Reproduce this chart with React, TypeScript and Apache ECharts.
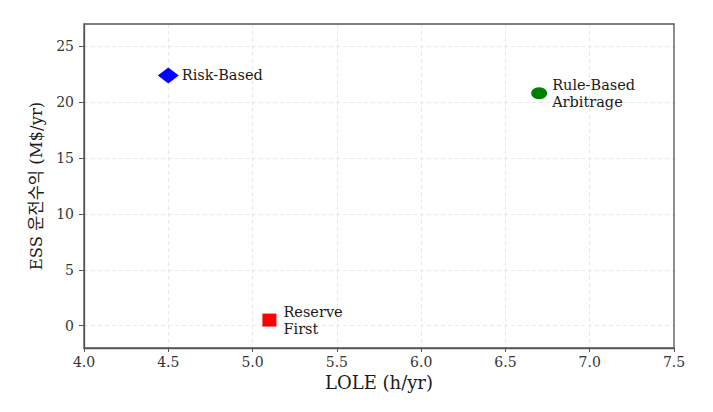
import React, { useEffect, useRef } from "react";
import * as echarts from "echarts";

const strategies = ["Risk-Based", "Rule-Based\nArbitrage", "Reserve\nFirst"];
const loleValues = [4.5, 6.7, 5.1];
const revenueValues = [22.4, 20.8, 0.5];
const yTickValues = [0, 5, 10, 15, 20, 25];

const FONT = "'DejaVu Serif', 'Noto Sans CJK KR', serif";

export default function App() {
  const ref = useRef<HTMLDivElement>(null);
  useEffect(() => {
    if (!ref.current) return;
    const chart = echarts.init(ref.current, undefined, { renderer: "svg" });
    const styles = [
      { symbol: "diamond", size: [21, 16], color: "#0000ff", dist: 3 },
      { symbol: "circle", size: [16, 12], color: "#008000", dist: 5 },
      { symbol: "rect", size: [14, 13], color: "#ff0000", dist: 7 },
    ];
    const series = strategies.map((name, i) => ({
      type: "scatter",
      name,
      symbol: styles[i].symbol,
      symbolSize: styles[i].size,
      itemStyle: { color: styles[i].color, opacity: 1 },
      data: [[loleValues[i], revenueValues[i]]],
      label: {
        show: true,
        position: "right",
        distance: styles[i].dist,
        formatter: name,
        color: "#1a1a1a",
        fontFamily: FONT,
        fontSize: 14.5,
        lineHeight: 17,
        align: "left",
      },
      emphasis: { disabled: true },
    }));
    chart.setOption({
      animation: false,
      backgroundColor: "#ffffff",
      grid: { left: 84, right: 39, top: 24, bottom: 64, show: false },
      xAxis: {
        type: "value",
        min: 4,
        max: 7.5,
        interval: 0.5,
        name: "LOLE (h/yr)",
        nameLocation: "middle",
        nameGap: 23,
        nameTextStyle: { fontFamily: FONT, fontSize: 18, color: "#1a1a1a" },
        axisLine: { show: true, onZero: false, lineStyle: { color: "#555", width: 1.3 } },
        axisTick: { show: true, length: 4, lineStyle: { color: "#555" } },
        axisLabel: {
          margin: 7,
          fontFamily: FONT,
          fontSize: 14,
          color: "#333",
          formatter: (v: number) => v.toFixed(1),
        },
        splitLine: { show: true, lineStyle: { color: "#e3e3e3", type: [4, 3], width: 0.8 } },
      },
      yAxis: {
        type: "value",
        min: -2,
        max: 27,
        name: "ESS 운전수익 (M$/yr)",
        nameLocation: "middle",
        nameGap: 39,
        nameTextStyle: { fontFamily: FONT, fontSize: 16.5, color: "#1a1a1a" },
        axisLine: { show: true, onZero: false, lineStyle: { color: "#555", width: 1.3 } },
        axisTick: { show: true, length: 5, customValues: yTickValues, lineStyle: { color: "#555" } },
        axisLabel: {
          margin: 10,
          fontFamily: FONT,
          fontSize: 14,
          color: "#333",
          customValues: yTickValues,
        },
        splitLine: { show: true, lineStyle: { color: "#e3e3e3", type: [4, 3], width: 0.8 } },
      },
      graphic: [
        {
          type: "rect",
          shape: { x: 84, y: 24, width: 590, height: 324 },
          style: { fill: "none", stroke: "#555", lineWidth: 1.3 },
          silent: true,
          z: 10,
        },
      ],
      series,
    });
    return () => chart.dispose();
  }, []);
  return (
    <div
      ref={ref}
      style={{ position: "fixed", left: 0, top: 0, width: 713, height: 412, background: "#fff" }}
    />
  );
}
